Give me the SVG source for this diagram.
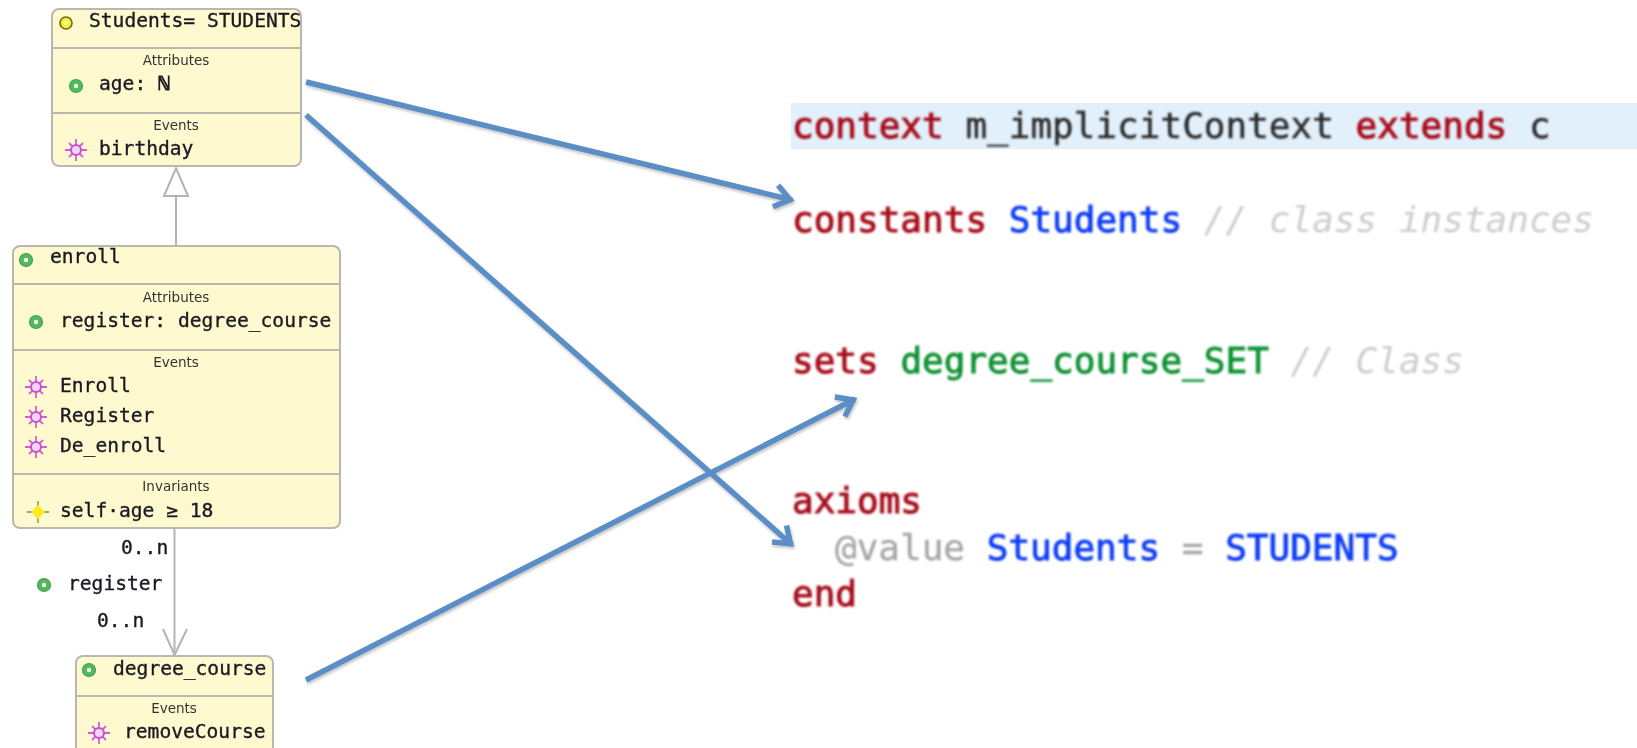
<svg xmlns="http://www.w3.org/2000/svg" xmlns:xlink="http://www.w3.org/1999/xlink" width="1637" height="748" viewBox="0 0 1637 748">
<style>
.box{fill:#fff9d0;stroke:#b8b8b0;stroke-width:2}
.div{stroke:#b8b8b0;stroke-width:2;fill:none}
.m{font-family:"DejaVu Sans Mono","Liberation Mono",monospace;font-size:19.6px;fill:#1a1a22;stroke:#1a1a22;stroke-width:.35}
.h{font-family:"DejaVu Sans","Liberation Sans",sans-serif;font-size:13.5px;fill:#333;text-anchor:middle}
.c{font-family:"DejaVu Sans Mono","Liberation Mono",monospace;font-size:36px;filter:url(#soft)}
.k{fill:#a8101f;stroke:#a8101f;stroke-width:1}
.b{fill:#0a3cf5;stroke:#0a3cf5;stroke-width:.9}
.g{fill:#0a9232;stroke:#0a9232;stroke-width:.9}
.n{fill:#2a2a2a;stroke:#2a2a2a;stroke-width:.4}
.r{fill:#cdcdcd;font-style:italic}
.v{fill:#a6a6a6;stroke:#a6a6a6;stroke-width:.3}
.gl{stroke:#b4b4b4;stroke-width:2;fill:none}
.ar{stroke:#5b8ec6;stroke-width:5.500;fill:none;marker-end:url(#head)}
</style>
<defs>
<filter id="soft" x="-5%" y="-20%" width="110%" height="140%"><feGaussianBlur stdDeviation="0.8"/></filter>
<filter id="soft2" x="-5%" y="-5%" width="110%" height="110%"><feGaussianBlur stdDeviation="0.4"/></filter>
<filter id="shadow" filterUnits="userSpaceOnUse" x="280" y="60" width="600" height="640"><feDropShadow dx="1" dy="2" stdDeviation="1.500" flood-color="#000" flood-opacity="0.25"/></filter>
<marker id="head" markerUnits="userSpaceOnUse" markerWidth="40" markerHeight="40" refX="26" refY="20" orient="auto" viewBox="0 0 40 40">
<path d="M9 9 L24 20 L9 31" fill="none" stroke="#5b8ec6" stroke-width="5.500"/>
</marker>
<g id="ig"><circle r="6.500" fill="#55b85f" stroke="#45a552" stroke-width="1.200"/><circle r="2.200" fill="#e8ffe8"/></g>
<g id="iy"><circle r="6" fill="#f8ee30" stroke="#6f6a18" stroke-width="1.600"/><circle r="2.500" fill="#fff9a0"/></g>
<g id="ie"><path d="M-11 0H11M0 -11V11M-7 -7L7 7M-7 7L7 -7" stroke="#d060d8" stroke-width="1.800"/><circle r="5" fill="#f4d4f8" stroke="#c850d0" stroke-width="2"/></g>
<g id="id"><path d="M-11 0H11M0 -11V11" stroke="#8a8a20" stroke-width="1.300"/><path d="M0 -7L7 0L0 7L-7 0Z" fill="#f6ea20"/></g>
</defs>
<rect width="1637" height="748" fill="#fff"/>
<g id="code">
<rect x="791" y="103" width="846" height="46" fill="#e2f0fb"/>
<text class="c" x="792" y="138"><tspan class="k">context</tspan><tspan class="n"> m_implicitContext </tspan><tspan class="k">extends</tspan><tspan class="n"> c</tspan></text>
<text class="c" x="792" y="232"><tspan class="k">constants</tspan><tspan class="b"> Students</tspan><tspan class="r"> // class instances</tspan></text>
<text class="c" x="792" y="373"><tspan class="k">sets</tspan><tspan class="g"> degree_course_SET</tspan><tspan class="r"> // Class</tspan></text>
<text class="c k" x="792" y="513">axioms</text>
<text class="c" x="835" y="560"><tspan class="v">@value</tspan><tspan class="b"> Students </tspan><tspan class="v">=</tspan><tspan class="b"> STUDENTS</tspan></text>
<text class="c k" x="792" y="606">end</text>
</g>
<g id="node-students" filter="url(#soft2)">
<rect class="box" x="52" y="9" width="249" height="157" rx="7"/>
<path class="div" d="M52 48H301M52 113H301"/>
<use xlink:href="#iy" href="#iy" x="66" y="23"/>
<text class="m" x="89" y="27">Students= STUDENTS</text>
<text class="h" x="176" y="65">Attributes</text>
<use xlink:href="#ig" href="#ig" x="76" y="86"/>
<text class="m" x="99" y="90">age: <tspan stroke-width="1">ℕ</tspan></text>
<text class="h" x="176" y="130">Events</text>
<use xlink:href="#ie" href="#ie" x="76" y="150"/>
<text class="m" x="99" y="155">birthday</text>
</g>
<g id="node-enroll" filter="url(#soft2)">
<rect class="box" x="13" y="246" width="327" height="282" rx="7"/>
<path class="div" d="M13 284H340M13 350H340M13 474H340"/>
<use xlink:href="#ig" href="#ig" x="26" y="260"/>
<text class="m" x="50" y="263">enroll</text>
<text class="h" x="176" y="302">Attributes</text>
<use xlink:href="#ig" href="#ig" x="36" y="322"/>
<text class="m" x="60" y="327">register: degree_course</text>
<text class="h" x="176" y="367">Events</text>
<use xlink:href="#ie" href="#ie" x="36" y="387"/>
<text class="m" x="60" y="392">Enroll</text>
<use xlink:href="#ie" href="#ie" x="36" y="417"/>
<text class="m" x="60" y="422">Register</text>
<use xlink:href="#ie" href="#ie" x="36" y="447"/>
<text class="m" x="60" y="452">De_enroll</text>
<text class="h" x="176" y="491">Invariants</text>
<use xlink:href="#id" href="#id" x="38" y="512"/>
<text class="m" x="60" y="517">self·age ≥ 18</text>
</g>
<g id="node-degree-course" filter="url(#soft2)">
<rect class="box" x="76" y="656" width="197" height="100" rx="7"/>
<path class="div" d="M76 696H273"/>
<use xlink:href="#ig" href="#ig" x="89" y="670"/>
<text class="m" x="113" y="675">degree_course</text>
<text class="h" x="174" y="713">Events</text>
<use xlink:href="#ie" href="#ie" x="99" y="733"/>
<text class="m" x="124" y="738">removeCourse</text>
</g>
<g id="connectors">
<path class="gl" d="M176 245V196"/>
<path class="gl" d="M176 168L188 196H164Z" fill="#fff"/>
<path class="gl" d="M174.500 528V655"/>
<path class="gl" d="M163 629L174.500 655L187 629"/>
<g filter="url(#shadow)">
<path class="ar" d="M306 82L792 200"/>
<path class="ar" d="M306 115L792 545"/>
<path class="ar" d="M306 680L855 399"/>
</g>
</g>
<g id="association-labels" filter="url(#soft2)">
<text class="m" x="121" y="554">0..n</text>
<use xlink:href="#ig" href="#ig" x="44" y="585"/>
<text class="m" x="68" y="590">register</text>
<text class="m" x="97" y="627">0..n</text>
</g>
</svg>
